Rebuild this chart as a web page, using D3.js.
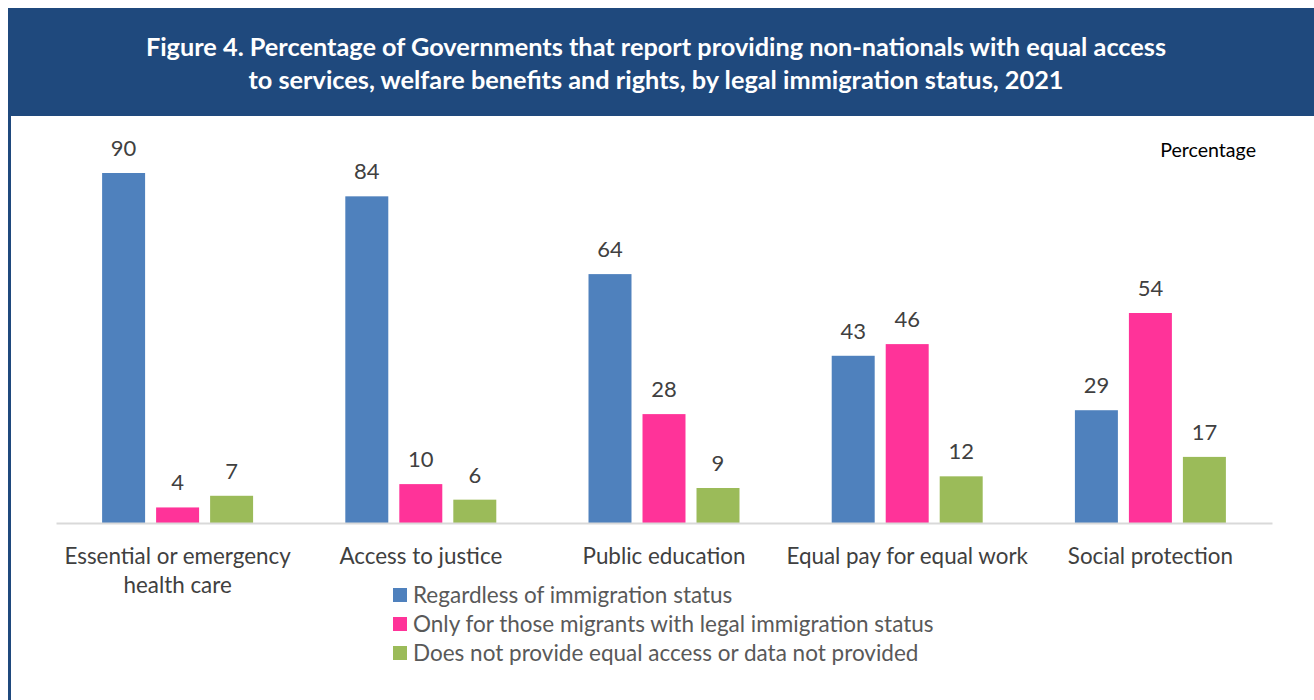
<!DOCTYPE html>
<html>
<head>
<meta charset="utf-8">
<script src="https://cdn.jsdelivr.net/npm/d3@7"></script>
<style>
  html, body { margin: 0; padding: 0; background: #ffffff; }
  svg { display: block; }
  text { font-family: Lato, "Open Sans", sans-serif; }
</style>
</head>
<body>
<svg id="chart" width="1314" height="700"></svg>
<script>
// Access categories shown along the x axis (line breaks with \n)
const categories = [
  "Essential or emergency\nhealth care",
  "Access to justice",
  "Public education",
  "Equal pay for equal work",
  "Social protection"
];

// Series names in legend order
const seriesNames = [
  "Regardless of immigration status",
  "Only for those migrants with legal immigration status",
  "Does not provide equal access or data not provided"
];

// Percentage of Governments, one array per series
const regardlessValues = [90, 84, 64, 43, 29];
const legalOnlyValues = [4, 10, 28, 46, 54];
const notProvidedValues = [7, 6, 9, 12, 17];

const seriesValues = [regardlessValues, legalOnlyValues, notProvidedValues];
const seriesColors = ["#4f81bd", "#ff3399", "#9bbb59"];

const titleLines = [
  "Figure 4. Percentage of Governments that report providing non-nationals with equal access",
  "to services, welfare benefits and rights, by legal immigration status, 2021"
];
const unitLabel = "Percentage";

const svg = d3.select("#chart");
const W = 1314, H = 700;

// Header band
svg.append("rect")
  .attr("x", 8).attr("y", 8)
  .attr("width", W - 8).attr("height", 108)
  .attr("fill", "#1f497d");

// Left frame line
svg.append("rect")
  .attr("x", 8).attr("y", 116)
  .attr("width", 3).attr("height", H - 116)
  .attr("fill", "#1f497d");

const title = svg.append("g");
titleLines.forEach((line, i) => {
  title.append("text")
    .attr("x", 656)
    .attr("y", 56 + i * 33)
    .attr("text-anchor", "middle")
    .attr("fill", "#ffffff")
    .attr("font-weight", "bold")
    .attr("font-size", 25.3)
    .text(line);
});

// Scales
const plot = { left: 56, right: 1272, baseline: 523 };
const x0 = d3.scaleBand()
  .domain(categories)
  .range([plot.left, plot.right])
  .padding(0);

const x1 = d3.scaleBand()
  .domain(seriesNames)
  .range([-81, 81])
  .paddingInner(0.204)
  .paddingOuter(0.102);

const y = d3.scaleLinear()
  .domain([0, 90])
  .range([plot.baseline, 173]);

// Bars
const groups = svg.append("g")
  .selectAll("g")
  .data(categories)
  .join("g")
  .attr("transform", d => `translate(${x0(d) + x0.bandwidth() / 2},0)`);

groups.selectAll("rect")
  .data((d, ci) => seriesNames.map((s, si) => ({ s, v: seriesValues[si][ci], si })))
  .join("rect")
  .attr("x", d => x1(d.s))
  .attr("width", x1.bandwidth())
  .attr("y", d => y(d.v))
  .attr("height", d => y(0) - y(d.v))
  .attr("fill", d => seriesColors[d.si]);

// Value labels
groups.selectAll("text.value")
  .data((d, ci) => seriesNames.map((s, si) => ({ s, v: seriesValues[si][ci] })))
  .join("text")
  .attr("class", "value")
  .attr("x", d => x1(d.s) + x1.bandwidth() / 2)
  .attr("y", d => y(d.v) - 17)
  .attr("text-anchor", "middle")
  .attr("font-size", 22)
  .attr("fill", "#404040")
  .text(d => d.v);

// Baseline axis with category labels
const xAxis = d3.axisBottom(x0).tickSize(0).tickFormat("");
const axisG = svg.append("g")
  .attr("transform", `translate(0,${plot.baseline})`)
  .call(xAxis);
axisG.select(".domain")
  .attr("stroke", "#d9d9d9")
  .attr("stroke-width", 2);

axisG.selectAll(".tick").each(function (d) {
  const t = d3.select(this).append("text")
    .attr("text-anchor", "middle")
    .attr("font-size", 22.4)
    .attr("fill", "#404040")
    .attr("y", 41);
  d.split("\n").forEach((line, i) => {
    t.append("tspan").attr("x", 0).attr("dy", i === 0 ? 0 : 29).text(line);
  });
});

// Unit label
svg.append("text")
  .attr("x", 1256).attr("y", 157)
  .attr("text-anchor", "end")
  .attr("font-size", 19.6)
  .attr("fill", "#000000")
  .text(unitLabel);

// Legend
const legend = svg.append("g").attr("transform", "translate(393,588)");
seriesNames.forEach((name, i) => {
  const row = legend.append("g").attr("transform", `translate(0,${i * 29})`);
  row.append("rect")
    .attr("width", 14).attr("height", 14)
    .attr("fill", seriesColors[i]);
  row.append("text")
    .attr("x", 20).attr("y", 15)
    .attr("font-size", 22.5)
    .attr("fill", "#595959")
    .text(name);
});
</script>
</body>
</html>
